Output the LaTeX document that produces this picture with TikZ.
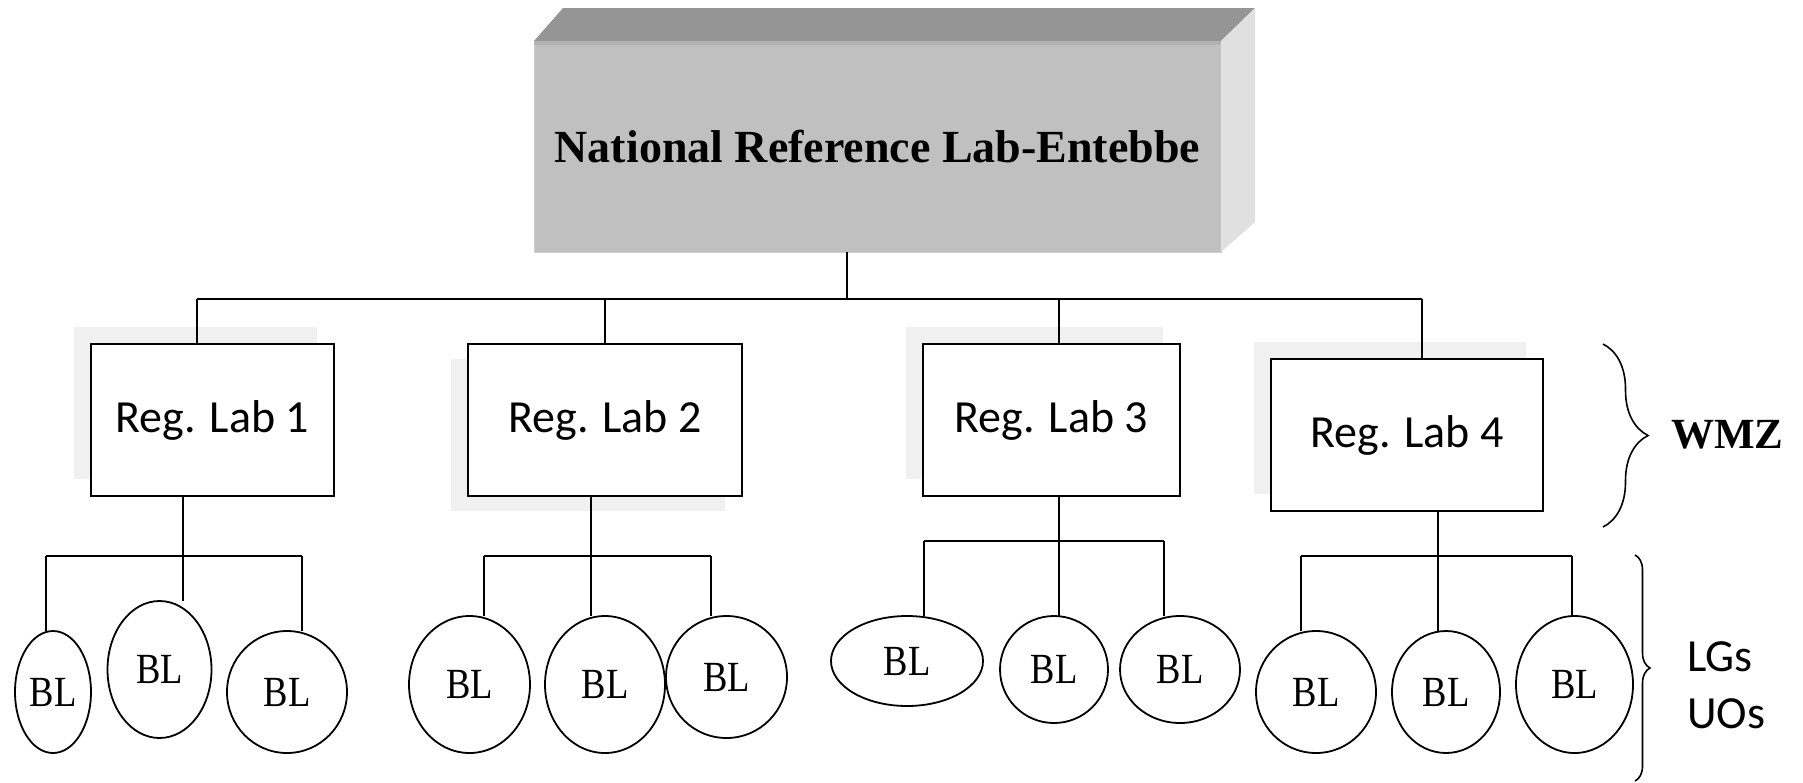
\documentclass[tikz,border=0pt]{standalone}
\usepackage{fontspec}
\usetikzlibrary{shapes.geometric,decorations.pathreplacing,backgrounds}
\newfontfamily\calib{Carlito}
\newfontfamily\tnr{Liberation Serif}
\newfontfamily\blf{Liberation Serif}[FakeStretch=0.85]
\definecolor{topc}{HTML}{959595}
\definecolor{frontc}{HTML}{C0C0C0}
\definecolor{bandc}{HTML}{B3B3B3}
\definecolor{sidec}{HTML}{E0E0E0}
\definecolor{shadowc}{HTML}{F0F0F0}
\begin{document}
\begin{tikzpicture}[x=0.5pt,y=-0.5pt,
  line/.style={draw=black, line width=1pt},
  bracestyle/.style={draw=black, line width=0.8pt, decorate},
  nrlface/.style={rectangle, fill=frontc, draw=frontc!80!white, line width=0.5pt, inner sep=0pt, outer sep=0pt,
    font=\tnr\bfseries\fontsize{23}{27}\selectfont},
  reglab/.style={rectangle, draw=black, line width=1pt, fill=white, inner sep=0pt, outer sep=0pt,
    minimum height=76pt, font=\calib\fontsize{23}{27}\selectfont},
  blnode/.style={ellipse, draw=black, line width=0.9pt, fill=white, inner sep=0pt, outer sep=0pt,
    font=\blf\fontsize{21.5}{25}\selectfont},
  sidelabel/.style={inner sep=0pt, outer sep=0pt}
]
\useasboundingbox (0,0) rectangle (1803,782);

% national reference lab (3D box)
\node[nrlface, minimum width=343.5pt, minimum height=105.5pt] (nrl) at (877.5,146.5) {National Reference Lab-Entebbe};
\fill[topc] (nrl.north west) -- (563,8) -- (1255,8) -- (nrl.north east) -- cycle;
\fill[sidec] (nrl.north east) -- (1255,8) -- (1255,222) -- (nrl.south east) -- cycle;
\fill[bandc] (534,41) rectangle (1221,45);

% regional labs
\node[reglab, minimum width=121.5pt] (r1) at (212.5,420) {Reg. Lab 1};
\node[reglab, minimum width=137pt] (r2) at (605,420) {Reg. Lab 2};
\node[reglab, minimum width=128.5pt] (r3) at (1051.5,420) {Reg. Lab 3};
\node[reglab, minimum width=136pt] (r4) at (1407,435) {Reg. Lab 4};

% shadows and background
\begin{scope}[on background layer]
  \fill[white] (0,0) rectangle (1803,782);
  \fill[shadowc] ([shift={(-17,-17)}]r1.south west) rectangle ([shift={(-17,-17)}]r1.north east);
  \fill[shadowc] ([shift={(-17,15)}]r2.south west) rectangle ([shift={(-17,15)}]r2.north east);
  \fill[shadowc] ([shift={(-17,-17)}]r3.south west) rectangle ([shift={(-17,-17)}]r3.north east);
  \fill[shadowc] ([shift={(-17,-17)}]r4.south west) rectangle ([shift={(-17,-17)}]r4.north east);
\end{scope}

% branch labs
\node[blnode, minimum width=38pt, minimum height=61pt] (b11) at (53,692) {BL};
\node[blnode, minimum width=52pt, minimum height=68.5pt] (b12) at (159.5,669.5) {BL};
\node[blnode, minimum width=60pt, minimum height=61pt] (b13) at (287,692) {BL};
\node[blnode, minimum width=60.5pt, minimum height=68.5pt] (b21) at (469.5,684.5) {BL};
\node[blnode, minimum width=60pt, minimum height=68.5pt] (b22) at (605,684.5) {BL};
\node[blnode, minimum width=60.5pt, minimum height=61pt] (b23) at (726.5,677) {BL};
\node[blnode, minimum width=76pt, minimum height=45pt] (b31) at (907,661) {BL};
\node[blnode, minimum width=54pt, minimum height=53.5pt] (b32) at (1054,669.5) {BL};
\node[blnode, minimum width=60pt, minimum height=53.5pt] (b33) at (1180,669.5) {BL};
\node[blnode, minimum width=60pt, minimum height=61pt] (b41) at (1316,692) {BL};
\node[blnode, minimum width=54pt, minimum height=61pt] (b42) at (1446,692) {BL};
\node[blnode, minimum width=58.5pt, minimum height=68.5pt] (b43) at (1574.5,684.5) {BL};

% top level connectors
\coordinate (t0) at (847,299);
\coordinate (t1) at (197,299);
\coordinate (t2) at (605,299);
\coordinate (t3) at (1058.5,299);
\coordinate (t4) at (1422,299);
\draw[line] (nrl.south -| t0) -- (t0);
\draw[line] (t1) -- (t4);
\draw[line] (t1) -- (t1 |- r1.north);
\draw[line] (t2) -- (t2 |- r2.north);
\draw[line] (t3) -- (t3 |- r3.north);
\draw[line] (t4) -- (t4 |- r4.north);

% group 1
\coordinate (s1) at (183,556);
\coordinate (g1a) at (46,556);
\coordinate (g1b) at (302,556);
\draw[line] (r1.south -| s1) -- (s1 |- b12.north);
\draw[line] (g1a) -- (g1b);
\draw[line] (g1a) -- (g1a |- b11.north);
\draw[line] (g1b) -- (g1b |- b13.north);

% group 2
\coordinate (s2) at (591,556);
\coordinate (g2a) at (484,556);
\coordinate (g2b) at (711,556);
\draw[line] (r2.south -| s2) -- (s2 |- b22.north);
\draw[line] (g2a) -- (g2b);
\draw[line] (g2a) -- (g2a |- b21.north);
\draw[line] (g2b) -- (g2b |- b23.north);

% group 3
\coordinate (s3) at (1058.5,541);
\coordinate (g3a) at (923.5,541);
\coordinate (g3b) at (1164,541);
\draw[line] (r3.south -| s3) -- (s3 |- b32.north);
\draw[line] (g3a) -- (g3b);
\draw[line] (g3a) -- (g3a |- b31.north);
\draw[line] (g3b) -- (g3b |- b33.north);

% group 4
\coordinate (s4) at (1437.5,556);
\coordinate (g4a) at (1301,556);
\coordinate (g4b) at (1572,556);
\draw[line] (r4.south -| s4) -- (s4 |- b42.north);
\draw[line] (g4a) -- (g4b);
\draw[line] (g4a) -- (g4a |- b41.north);
\draw[line] (g4b) -- (g4b |- b43.north);

% braces and side labels
\coordinate (w1) at (1603,344);
\coordinate (w2) at (1603,527);
\draw[bracestyle, decoration={brace, amplitude=22.5pt}] (w1) -- (w2);
\coordinate (u1) at (1635,555);
\coordinate (u2) at (1635,781);
\draw[bracestyle, decoration={brace, amplitude=7.5pt}] (u1) -- (u2);
\node[sidelabel, anchor=west, font=\tnr\bfseries\fontsize{21.5}{25}\selectfont] (wmz) at (1671,435) {WMZ};
\node[sidelabel, anchor=base west, font=\calib\fontsize{23}{27}\selectfont] (lgs) at (1687,671) {LGs};
\node[sidelabel, anchor=base west, font=\calib\fontsize{23}{27}\selectfont] (uos) at (1687,728) {UOs};
\end{tikzpicture}
\end{document}
